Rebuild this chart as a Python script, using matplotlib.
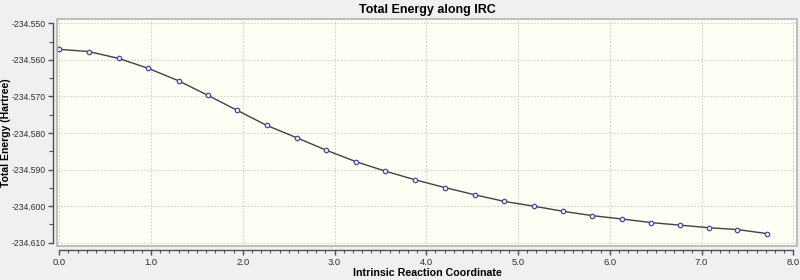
import matplotlib
matplotlib.use("Agg")
import matplotlib.pyplot as plt
from matplotlib.ticker import MultipleLocator, FormatStrFormatter
from matplotlib.patches import Rectangle

irc = [0.00, 0.32, 0.65, 0.97, 1.30, 1.62, 1.94, 2.26, 2.59, 2.91, 3.23, 3.55,
       3.88, 4.20, 4.53, 4.85, 5.17, 5.49, 5.81, 6.13, 6.45, 6.77, 7.08, 7.39, 7.71]
energy = [-234.5571, -234.5577, -234.5596, -234.5623, -234.5657, -234.5697,
          -234.5738, -234.5779, -234.5813, -234.5847, -234.5878, -234.5904,
          -234.5928, -234.5949, -234.5969, -234.5987, -234.6000, -234.6014,
          -234.6026, -234.6035, -234.6045, -234.6052, -234.6059, -234.6064,
          -234.6075]
title = "Total Energy along IRC"
xlabel = "Intrinsic Reaction Coordinate"
ylabel = "Total Energy (Hartree)"

plt.rcParams['font.family'] = ['Liberation Sans', 'DejaVu Sans']

fig = plt.figure(figsize=(8, 2.8), dpi=100, facecolor='#f0f0f0')
ax = fig.add_axes([57/800, 1-246/280, 740/800, 227/280])
ax.set_facecolor('#fffff5')

ax.plot(irc, energy, color='#404048', lw=1.0, marker='o', ms=3.2,
        mfc='#f4f4ff', mec='#4a4a9a', mew=0.9, zorder=3)

ax.set_xlim(-0.025, 8.04)
ax.set_ylim(-234.6109, -234.5488)

ax.xaxis.set_major_locator(MultipleLocator(1.0))
ax.xaxis.set_minor_locator(MultipleLocator(0.1))
ax.xaxis.set_major_formatter(FormatStrFormatter('%.1f'))
ax.yaxis.set_major_locator(MultipleLocator(0.010))
ax.yaxis.set_minor_locator(MultipleLocator(0.005))
ax.yaxis.set_major_formatter(FormatStrFormatter('%.3f'))

ax.grid(True, which='major', color='#d2d2d2', ls=(0, (1.5, 1.5)), lw=0.8)
ax.set_axisbelow(True)

for s in ['top', 'right']:
    ax.spines[s].set_visible(False)
ax.spines['left'].set_position(('outward', 3))
ax.spines['bottom'].set_position(('outward', 3))
ax.spines['left'].set_bounds(-234.610, -234.550)
ax.spines['bottom'].set_bounds(0, 8)
for s in ['left', 'bottom']:
    ax.spines[s].set_color('#505050')
    ax.spines[s].set_linewidth(1.0)

border = Rectangle((0, 0), 1, 1, transform=ax.transAxes, fill=False,
                   ec='#b4b4b4', lw=1.2, clip_on=False, zorder=5)
ax.add_patch(border)

ax.tick_params(which='major', length=3.5, width=1.0, color='#505050',
               labelsize=6.2, labelcolor='#303030', pad=1.5)
ax.tick_params(axis='x', which='major', labelsize=6.8, pad=2)
ax.tick_params(which='minor', length=2.2, width=0.8, color='#505050')
ax.tick_params(axis='y', which='minor', length=3)

ax.set_title(title, fontsize=9, fontweight='bold', pad=4)
ax.set_xlabel(xlabel, fontsize=7.7, fontweight='bold', labelpad=1)
ax.set_ylabel(ylabel, fontsize=7.5, fontweight='bold')
ax.yaxis.set_label_coords(-0.0615, 0.5)

fig.savefig('out.png', dpi=100, facecolor=fig.get_facecolor())
